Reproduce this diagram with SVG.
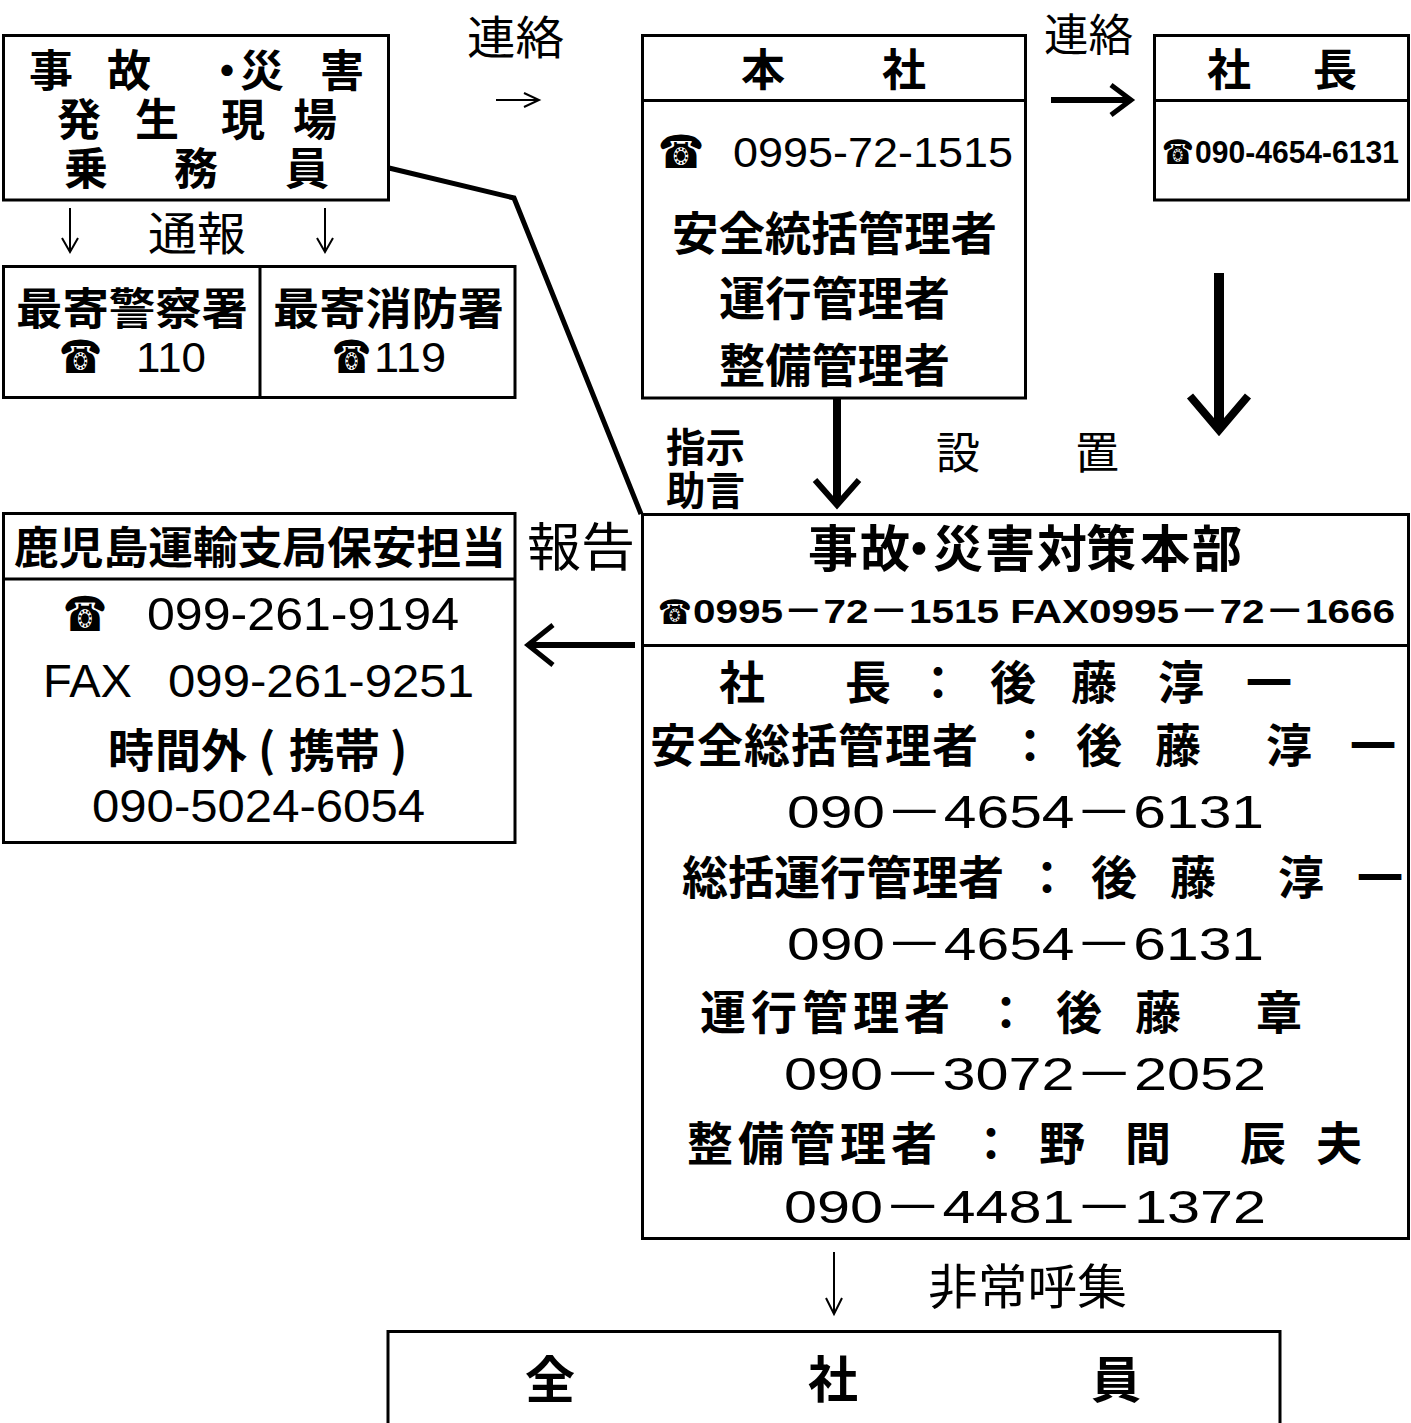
<svg xmlns="http://www.w3.org/2000/svg" width="1411" height="1423" viewBox="0 0 1411 1423">
<style>
.bx{fill:#fff;stroke:#000;stroke-width:3}
.dv{stroke:#000;stroke-width:3}
.jb{font-family:"Noto Sans CJK JP","Noto Sans CJK SC",sans-serif;font-weight:700;fill:#000}
.jn{font-family:"Noto Sans CJK JP","Noto Sans CJK SC",sans-serif;font-weight:400;fill:#000}
.dg{font-family:"Liberation Sans","Noto Sans CJK JP",sans-serif;font-weight:400;fill:#000}
.dgb{font-family:"Liberation Sans","Noto Sans CJK JP",sans-serif;font-weight:700;fill:#000}
.tel{font-family:"DejaVu Sans","Noto Sans CJK JP",sans-serif;fill:#000}
.ln{fill:none;stroke:#000}
</style>
<rect width="1411" height="1423" fill="#fff"/>

<g id="connectors">
  <polyline class="ln" points="389,168 514,198 641,514" stroke-width="5" stroke-linejoin="miter"/>
  <line class="ln" x1="70" y1="208" x2="70" y2="252" stroke-width="2"/>
  <polyline class="ln" points="62,238 70,252 78,238" stroke-width="2"/>
  <line class="ln" x1="325" y1="208" x2="325" y2="252" stroke-width="2"/>
  <polyline class="ln" points="317,238 325,252 333,238" stroke-width="2"/>
  <line class="ln" x1="496" y1="100" x2="539" y2="100" stroke-width="2"/>
  <polyline class="ln" points="524,93 539,100 524,107" stroke-width="2"/>
  <line class="ln" x1="1051" y1="100" x2="1128" y2="100" stroke-width="6"/>
  <polyline class="ln" points="1111,85 1131,100 1111,115" stroke-width="5"/>
  <line class="ln" x1="1219" y1="273" x2="1219" y2="426" stroke-width="10"/>
  <polyline class="ln" points="1190,396 1219,430 1248,396" stroke-width="8"/>
  <line class="ln" x1="837" y1="398" x2="837" y2="502" stroke-width="8"/>
  <polyline class="ln" points="815,480 837,505 859,480" stroke-width="6"/>
  <line class="ln" x1="531" y1="645" x2="635" y2="645" stroke-width="6"/>
  <polyline class="ln" points="553,625 528,645 553,665" stroke-width="5"/>
  <line class="ln" x1="834" y1="1252" x2="834" y2="1314" stroke-width="2"/>
  <polyline class="ln" points="826,1298 834,1314 842,1298" stroke-width="2"/>
</g>

<g id="labels">
  <text class="jn" x="467" y="54" font-size="46" textLength="97" lengthAdjust="spacingAndGlyphs">連絡</text>
  <text class="jn" x="1044" y="51" font-size="44" textLength="89" lengthAdjust="spacingAndGlyphs">連絡</text>
  <text class="jn" x="148" y="250" font-size="46" textLength="98" lengthAdjust="spacingAndGlyphs">通報</text>
  <text class="jb" x="666" y="462" font-size="40" textLength="79" lengthAdjust="spacingAndGlyphs">指示</text>
  <text class="jb" x="666" y="505" font-size="40" textLength="79" lengthAdjust="spacingAndGlyphs">助言</text>
  <text class="jn" font-size="44" y="469" x="936 1075">設置</text>
  <text class="jn" x="527" y="566" font-size="52" textLength="108" lengthAdjust="spacingAndGlyphs">報告</text>
  <text class="jn" x="928" y="1304" font-size="48" textLength="199" lengthAdjust="spacingAndGlyphs">非常呼集</text>
</g>

<g id="node-site">
  <rect class="bx" x="3.5" y="35.5" width="385" height="164.5"/>
  <text class="jb" font-size="44" y="87" x="29 107 205 240 320">事故・災害</text>
  <text class="jb" font-size="44" y="136" x="57 135 221 293">発生現場</text>
  <text class="jb" font-size="44" y="185" x="64 174 285">乗務員</text>
</g>

<g id="node-police-fire">
  <rect class="bx" x="3.5" y="266.5" width="511.5" height="131"/>
  <line class="dv" x1="260" y1="266.5" x2="260" y2="397.5"/>
  <text class="jb" x="16" y="325" font-size="44" textLength="232" lengthAdjust="spacingAndGlyphs">最寄警察署</text>
  <text class="tel" x="59" y="373" font-size="46" textLength="43" lengthAdjust="spacingAndGlyphs">☎</text>
  <text class="dg" x="136" y="372" font-size="42" textLength="70" lengthAdjust="spacingAndGlyphs">110</text>
  <text class="jb" x="273" y="325" font-size="44" textLength="231" lengthAdjust="spacingAndGlyphs">最寄消防署</text>
  <text class="tel" x="332" y="373" font-size="46" textLength="39" lengthAdjust="spacingAndGlyphs">☎</text>
  <text class="dg" x="374" y="372" font-size="42" textLength="72" lengthAdjust="spacingAndGlyphs">119</text>
</g>

<g id="node-honsha">
  <rect class="bx" x="642.5" y="35.5" width="383" height="362.5"/>
  <line class="dv" x1="642.5" y1="100.5" x2="1025.5" y2="100.5"/>
  <text class="jb" font-size="44" y="86" x="741 882">本社</text>
  <text class="tel" x="658" y="168" font-size="46" textLength="46" lengthAdjust="spacingAndGlyphs">☎</text>
  <text class="dg" x="733" y="167" font-size="42" textLength="280" lengthAdjust="spacingAndGlyphs">0995-72-1515</text>
  <text class="jb" x="672" y="250" font-size="46" textLength="325" lengthAdjust="spacingAndGlyphs">安全統括管理者</text>
  <text class="jb" x="719" y="315" font-size="46" textLength="231" lengthAdjust="spacingAndGlyphs">運行管理者</text>
  <text class="jb" x="719" y="382" font-size="46" textLength="231" lengthAdjust="spacingAndGlyphs">整備管理者</text>
</g>

<g id="node-president">
  <rect class="bx" x="1154.5" y="35.5" width="254" height="164.5"/>
  <line class="dv" x1="1154.5" y1="100.5" x2="1408.5" y2="100.5"/>
  <text class="jb" font-size="44" y="86" x="1207 1313">社長</text>
  <text class="tel" x="1162" y="164" font-size="34" textLength="32" lengthAdjust="spacingAndGlyphs">☎</text>
  <text class="dgb" x="1195" y="163" font-size="32" textLength="204" lengthAdjust="spacingAndGlyphs">090-4654-6131</text>
</g>

<g id="node-kagoshima">
  <rect class="bx" x="3.5" y="513.5" width="511.5" height="329"/>
  <line class="dv" x1="3.5" y1="579" x2="515" y2="579"/>
  <text class="jb" x="14" y="564" font-size="44" textLength="492" lengthAdjust="spacingAndGlyphs">鹿児島運輸支局保安担当</text>
  <text class="tel" x="63" y="631" font-size="48" textLength="44" lengthAdjust="spacingAndGlyphs">☎</text>
  <text class="dg" x="147" y="630" font-size="46" textLength="312" lengthAdjust="spacingAndGlyphs">099-261-9194</text>
  <text class="dg" x="43" y="697" font-size="46" textLength="89" lengthAdjust="spacingAndGlyphs">FAX</text>
  <text class="dg" x="168" y="697" font-size="46" textLength="306" lengthAdjust="spacingAndGlyphs">099-261-9251</text>
  <text class="jb" font-size="46" y="767" x="108 155 201 258 289 334 390">時間外(携帯)</text>
  <text class="dg" x="92" y="822" font-size="46" textLength="333" lengthAdjust="spacingAndGlyphs">090-5024-6054</text>
</g>

<g id="node-hq">
  <rect class="bx" x="642.5" y="514.5" width="766" height="724"/>
  <line class="dv" x1="642.5" y1="645.5" x2="1408.5" y2="645.5"/>
  <text class="jb" font-size="50" y="567" x="808 860 894 933 985 1037 1086 1140 1192">事故・災害対策本部</text>
  <text class="tel" x="658" y="624" font-size="34" textLength="34" lengthAdjust="spacingAndGlyphs">☎</text>
  <text class="dgb" x="693" y="623" font-size="34" textLength="702" lengthAdjust="spacingAndGlyphs">0995－72－1515  FAX0995－72－1666</text>

  <text class="jb" font-size="46" y="699" x="719 845 915 990 1071 1158 1246">社長：後藤淳一</text>
  <text class="jb" font-size="46" y="762" x="650 697 744 791 838 885 932 1007 1076 1155 1266 1350">安全総括管理者：後藤淳一</text>
  <text class="dg" x="787" y="828" font-size="46" textLength="477" lengthAdjust="spacingAndGlyphs">090－4654－6131</text>
  <text class="jb" font-size="46" y="894" x="682 728 774 820 866 912 958 1024 1091 1170 1278 1357">総括運行管理者：後藤淳一</text>
  <text class="dg" x="787" y="960" font-size="46" textLength="477" lengthAdjust="spacingAndGlyphs">090－4654－6131</text>
  <text class="jb" font-size="46" y="1029" x="700 751 802 853 904 983 1056 1135 1256">運行管理者：後藤章</text>
  <text class="dg" x="784" y="1090" font-size="46" textLength="482" lengthAdjust="spacingAndGlyphs">090－3072－2052</text>
  <text class="jb" font-size="46" y="1160" x="687 738 789 840 891 968 1039 1125 1240 1316">整備管理者：野間辰夫</text>
  <text class="dg" x="784" y="1223" font-size="46" textLength="482" lengthAdjust="spacingAndGlyphs">090－4481－1372</text>
</g>

<g id="node-allstaff">
  <rect class="bx" x="388" y="1331.5" width="892" height="110"/>
  <text class="jb" font-size="50" y="1398" x="525 808 1091">全社員</text>
</g>
</svg>
